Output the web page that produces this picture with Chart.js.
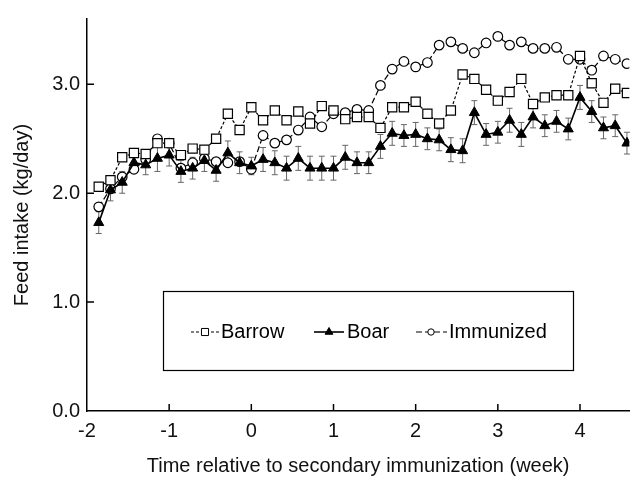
<!DOCTYPE html>
<html><head><meta charset="utf-8">
<script src="https://cdn.jsdelivr.net/npm/chart.js@4/dist/chart.umd.min.js"></script>
<style>html,body{margin:0;padding:0;background:#fff}#wrap{position:relative;width:637px;height:481px}</style>
</head><body><div id="wrap"><canvas id="c" width="637" height="481"></canvas></div>
<script>
// Day relative to secondary immunization (converted to weeks for the x axis)
const days = [-13,-12,-11,-10,-9,-8,-7,-6,-5,-4,-3,-2,-1,0,1,2,3,4,5,6,7,8,9,10,11,12,13,14,15,16,17,18,19,20,21,22,23,24,25,26,27,28,29,30,31,32];
const barrow = [2.06,2.12,2.33,2.37,2.36,2.46,2.46,2.35,2.41,2.40,2.50,2.73,2.58,2.79,2.67,2.76,2.67,2.75,2.64,2.80,2.76,2.68,2.70,2.70,2.60,2.79,2.79,2.84,2.73,2.64,2.76,3.09,3.05,2.95,2.85,2.93,3.05,2.82,2.88,2.90,2.90,3.26,3.01,2.83,2.96,2.92];
const boar = [1.73,2.03,2.10,2.28,2.26,2.32,2.35,2.20,2.23,2.30,2.21,2.37,2.28,2.25,2.31,2.28,2.23,2.32,2.23,2.23,2.23,2.33,2.28,2.28,2.43,2.55,2.53,2.54,2.50,2.49,2.40,2.39,2.74,2.54,2.56,2.67,2.54,2.70,2.62,2.66,2.59,2.88,2.75,2.60,2.62,2.46];
const boarErr = [0.10,0.10,0.10,0.06,0.09,0.12,0.10,0.10,0.10,0.10,0.10,0.11,0.10,0.08,0.11,0.11,0.11,0.11,0.11,0.11,0.11,0.11,0.10,0.10,0.11,0.11,0.10,0.11,0.10,0.10,0.11,0.11,0.11,0.10,0.10,0.11,0.11,0.10,0.10,0.10,0.10,0.11,0.10,0.10,0.10,0.10];
const immunized = [1.875,2.04,2.15,2.22,2.31,2.50,2.46,2.23,2.28,2.32,2.29,2.28,2.29,2.22,2.53,2.46,2.49,2.58,2.70,2.61,2.73,2.74,2.77,2.76,2.99,3.14,3.21,3.16,3.20,3.36,3.39,3.33,3.29,3.38,3.44,3.36,3.39,3.33,3.33,3.34,3.23,3.23,3.13,3.26,3.23,3.19];
const xTicks = [-2,-1,0,1,2,3,4];
const yTicks = [0,1,2,3];
const seriesNames = ['Barrow','Boar','Immunized'];
const xTitle = 'Time relative to secondary immunization (week)';
const yTitle = 'Feed intake (kg/day)';

const FONT = 'Liberation Sans, Arial, sans-serif';
const toPts = arr => arr.map((v,i) => ({x: days[i]/7, y: v}));

const errorBars = {
  id: 'errorBars',
  beforeDatasetsDraw(chart) {
    const ctx = chart.ctx, xs = chart.scales.x, ys = chart.scales.y;
    ctx.save();
    ctx.strokeStyle = '#666';
    ctx.lineWidth = 1;
    boar.forEach((v,i) => {
      const px = xs.getPixelForValue(days[i]/7);
      const top = ys.getPixelForValue(v + boarErr[i]);
      const bot = ys.getPixelForValue(v - boarErr[i]);
      ctx.beginPath();
      ctx.moveTo(px, top); ctx.lineTo(px, bot);
      ctx.moveTo(px-3, top); ctx.lineTo(px+3, top);
      ctx.moveTo(px-3, bot); ctx.lineTo(px+3, bot);
      ctx.stroke();
    });
    ctx.restore();
  }
};

const decor = {
  id: 'decor',
  afterDraw(chart) {
    const ctx = chart.ctx, xs = chart.scales.x, ys = chart.scales.y, a = chart.chartArea;
    ctx.save();
    ctx.strokeStyle = '#000';
    ctx.lineWidth = 1.5;
    ctx.beginPath();
    xTicks.forEach(t => { if (t === xs.min) return; const px = xs.getPixelForValue(t); ctx.moveTo(px, a.bottom); ctx.lineTo(px, a.bottom-7); });
    yTicks.forEach(t => { if (t === ys.min) return; const py = ys.getPixelForValue(t); ctx.moveTo(a.left, py); ctx.lineTo(a.left+7, py); });
    ctx.stroke();
    // legend box
    ctx.lineWidth = 1.2;
    ctx.strokeRect(163.5, 291.5, 410, 79);
    const cy = 332;
    const items = [
      {x0:191, x1:219, mx:205, text:'Barrow', tx:221, ds:0},
      {x0:314, x1:344, mx:329, text:'Boar', tx:347, ds:1},
      {x0:416, x1:447, mx:431, text:'Immunized', tx:449, ds:2}
    ];
    items.forEach(it => {
      const d = chart.data.datasets[it.ds];
      ctx.save();
      ctx.strokeStyle = '#000';
      ctx.lineWidth = d.borderWidth;
      ctx.setLineDash(d.borderDash || []);
      ctx.beginPath(); ctx.moveTo(it.x0, cy); ctx.lineTo(it.x1, cy); ctx.stroke();
      ctx.restore();
      ctx.save();
      ctx.fillStyle = d.pointBackgroundColor;
      ctx.strokeStyle = '#000';
      ctx.lineWidth = 1;
      Chart.helpers.drawPoint(ctx, {pointStyle: d.pointStyle, radius: d.pointStyle==='circle'?3.2:(d.pointStyle==='rect'?5:4.5), borderWidth:1}, it.mx, cy);
      ctx.restore();
      ctx.fillStyle = '#000';
      ctx.font = '20px ' + FONT;
      ctx.textBaseline = 'middle';
      ctx.textAlign = 'left';
      ctx.fillText(it.text, it.tx, cy);
    });
    ctx.restore();
  }
};

new Chart(document.getElementById('c'), {
  type: 'line',
  data: {
    datasets: [
      {label: seriesNames[0], data: toPts(barrow), borderColor:'#000', borderWidth:1.2, borderDash:[3,2],
       pointStyle:'rect', pointRadius:6.5, pointBackgroundColor:'#fff', pointBorderColor:'#000', pointBorderWidth:1.2, tension:0},
      {label: seriesNames[1], data: toPts(boar), borderColor:'#000', borderWidth:1.6,
       pointStyle:'triangle', pointRadius:5.8, pointBackgroundColor:'#000', pointBorderColor:'#000', pointBorderWidth:1, tension:0},
      {label: seriesNames[2], data: toPts(immunized), borderColor:'#000', borderWidth:1.2, borderDash:[6,3],
       pointStyle:'circle', pointRadius:4.8, pointBackgroundColor:'#fff', pointBorderColor:'#000', pointBorderWidth:1.2, tension:0}
    ]
  },
  options: {
    responsive: false,
    animation: false,
    devicePixelRatio: 1,
    layout: {padding: {left:0, right:5, top:10, bottom:0}},
    plugins: {legend: {display:false}, tooltip: {enabled:false}},
    scales: {
      x: {
        type:'linear', min:-2, max:4.6,
        afterBuildTicks: s => { s.ticks = xTicks.map(v => ({value:v})); },
        afterFit: s => { s.height = 70; },
        grid: {display:false, drawTicks:false},
        border: {display:true, color:'#000', width:1.5},
        ticks: {color:'#111', font:{family:FONT, size:20}, padding:8, callback: v => String(v)},
        title: {display:true, text:xTitle, color:'#111', font:{family:FONT, size:20}, padding:{top:0,bottom:3}}
      },
      y: {
        type:'linear', min:0, max:3.6,
        afterBuildTicks: s => { s.ticks = yTicks.map(v => ({value:v})); },
        afterFit: s => { s.width = 87; },
        grid: {display:false, drawTicks:false},
        border: {display:true, color:'#000', width:1.5},
        ticks: {color:'#111', font:{family:FONT, size:20}, padding:7, callback: v => Number(v).toFixed(1)},
        title: {display:true, text:yTitle, color:'#111', font:{family:FONT, size:20}, padding:{top:10,bottom:0}}
      }
    }
  },
  plugins: [errorBars, decor]
});
</script></body></html>
